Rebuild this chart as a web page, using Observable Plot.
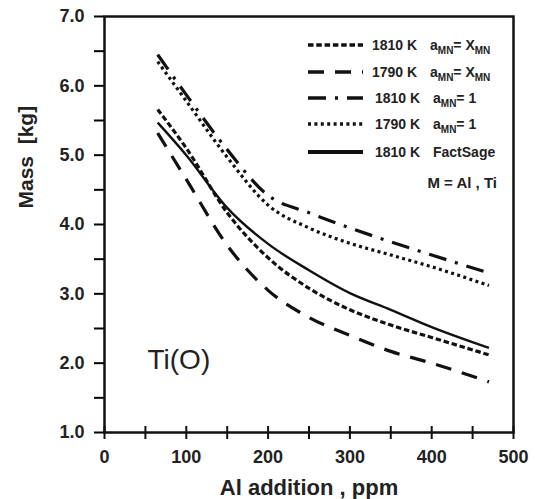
<!DOCTYPE html>
<html>
<head>
<meta charset="utf-8">
<script src="https://cdn.jsdelivr.net/npm/d3@7"></script>
<script src="https://cdn.jsdelivr.net/npm/@observablehq/plot@0.6"></script>
<style>
  html, body { margin: 0; padding: 0; background: #fff; }
  svg { font-family: "Liberation Sans", Arial, sans-serif; }
</style>
</head>
<body>
<div id="chart"></div>
<script>
// Al addition (ppm)
const alPpm = [65, 100, 150, 200, 250, 300, 350, 400, 470];
// Mass [kg] for each model
const m1810XMN   = [5.66, 5.10, 4.17, 3.52, 3.08, 2.77, 2.55, 2.37, 2.12];
const m1790XMN   = [5.32, 4.65, 3.70, 3.05, 2.66, 2.40, 2.17, 2.00, 1.73];
const m1810One   = [6.45, 5.87, 5.08, 4.42, 4.17, 3.95, 3.75, 3.56, 3.30];
const m1790One   = [6.35, 5.78, 4.97, 4.28, 3.95, 3.73, 3.56, 3.39, 3.12];
const m1810Fact  = [5.47, 5.00, 4.24, 3.72, 3.34, 3.01, 2.77, 2.52, 2.22];

const xLabelTicks = [0, 100, 200, 300, 400, 500];
const xTickMarks = [0, 50, 100, 150, 200, 250, 300, 350, 400, 450, 500];
const yTicks = [1, 1.5, 2, 2.5, 3, 3.5, 4, 4.5, 5, 5.5, 6, 6.5, 7];

const seriesDefs = [
  {key: "1810XMN", vals: m1810XMN, temp: "1810 K", kind: "xmn", dash: "5.5,2.8", width: 3.2},
  {key: "1790XMN", vals: m1790XMN, temp: "1790 K", kind: "xmn", dash: "16,11", width: 3.2},
  {key: "1810One", vals: m1810One, temp: "1810 K", kind: "one", dash: "18,9,3,9", width: 3.2},
  {key: "1790One", vals: m1790One, temp: "1790 K", kind: "one", dash: "3,3.4", width: 3.2},
  {key: "1810Fact", vals: m1810Fact, temp: "1810 K", kind: "fact", dash: null, width: 2.4}
];

const lineMarks = seriesDefs.map(s => Plot.line(
  alPpm.map((x, i) => ({x, y: s.vals[i]})),
  {x: "x", y: "y", curve: "monotone-x", stroke: "#111", strokeWidth: s.width,
   strokeDasharray: s.dash || undefined, strokeLinecap: "butt"}
));

const svg = Plot.plot({
  width: 537,
  height: 499,
  marginLeft: 104,
  marginRight: 24,
  marginTop: 16,
  marginBottom: 67,
  x: {domain: [0, 500]},
  y: {domain: [1, 7]},
  marks: [
    ...lineMarks,
    Plot.axisY({ticks: yTicks, tickSize: 10, tickPadding: 10, strokeWidth: 2,
      tickFormat: d => Number.isInteger(d) ? d.toFixed(1) : "",
      fontSize: 18, fontWeight: "bold", fill: "#222", label: null}),
    Plot.axisX({ticks: xLabelTicks, tickSize: 0, tickPadding: 18,
      tickFormat: d => String(d), fontSize: 18, fontWeight: "bold", fill: "#222", label: null}),
    Plot.ruleX(xTickMarks, {x: d => d, insetTop: 410, insetBottom: -7, stroke: "#111", strokeWidth: 2}),
    Plot.frame({stroke: "#111", strokeWidth: 2.5}),
    Plot.text(["Mass\u00a0\u00a0[kg]"], {frameAnchor: "left", dx: -78, dy: -16, rotate: -90,
      fontSize: 21, fontWeight: "bold", fill: "#222"}),
    Plot.text(["Al addition , ppm"], {frameAnchor: "bottom", dy: 55, lineAnchor: "middle",
      fontSize: 22, fontWeight: "bold", fill: "#222"}),
    Plot.text(["Ti(O)"], {frameAnchor: "bottom-left", dx: 43, dy: -72, textAnchor: "start",
      lineAnchor: "middle", fontSize: 28, fill: "#222"})
  ]
});

document.getElementById("chart").appendChild(svg);

// Legend inside the plot area
const sel = d3.select(svg);
const lg = sel.append("g").attr("font-family", "Liberation Sans, Arial, sans-serif")
  .attr("font-weight", "bold").attr("fill", "#222").attr("text-anchor", "start");
const rowY = [45, 72, 98, 124, 152];
seriesDefs.forEach((s, i) => {
  const y = rowY[i];
  lg.append("line").attr("x1", 308).attr("x2", 363).attr("y1", y).attr("y2", y)
    .attr("stroke", "#111").attr("stroke-width", s.kind === "fact" ? 4 : 3.4)
    .attr("stroke-dasharray", s.dash || null);
  lg.append("text").attr("x", s.kind === "xmn" ? 372 : 375).attr("y", y + 5)
    .attr("font-size", 14).text(s.temp);
  const t = lg.append("text").attr("x", s.kind === "xmn" ? 430 : 433).attr("y", y + 5).attr("font-size", 14);
  if (s.kind === "fact") {
    t.text("FactSage");
  } else {
    t.append("tspan").text("a");
    t.append("tspan").attr("font-size", 10).attr("dy", 4).text("MN");
    if (s.kind === "xmn") {
      t.append("tspan").attr("dy", -4).text("= X");
      t.append("tspan").attr("font-size", 10).attr("dy", 4).text("MN");
    } else {
      t.append("tspan").attr("dy", -4).text("= 1");
    }
  }
});
lg.append("text").attr("x", 497).attr("y", 188).attr("text-anchor", "end")
  .attr("font-size", 15).text("M = Al , Ti");
</script>
</body>
</html>
